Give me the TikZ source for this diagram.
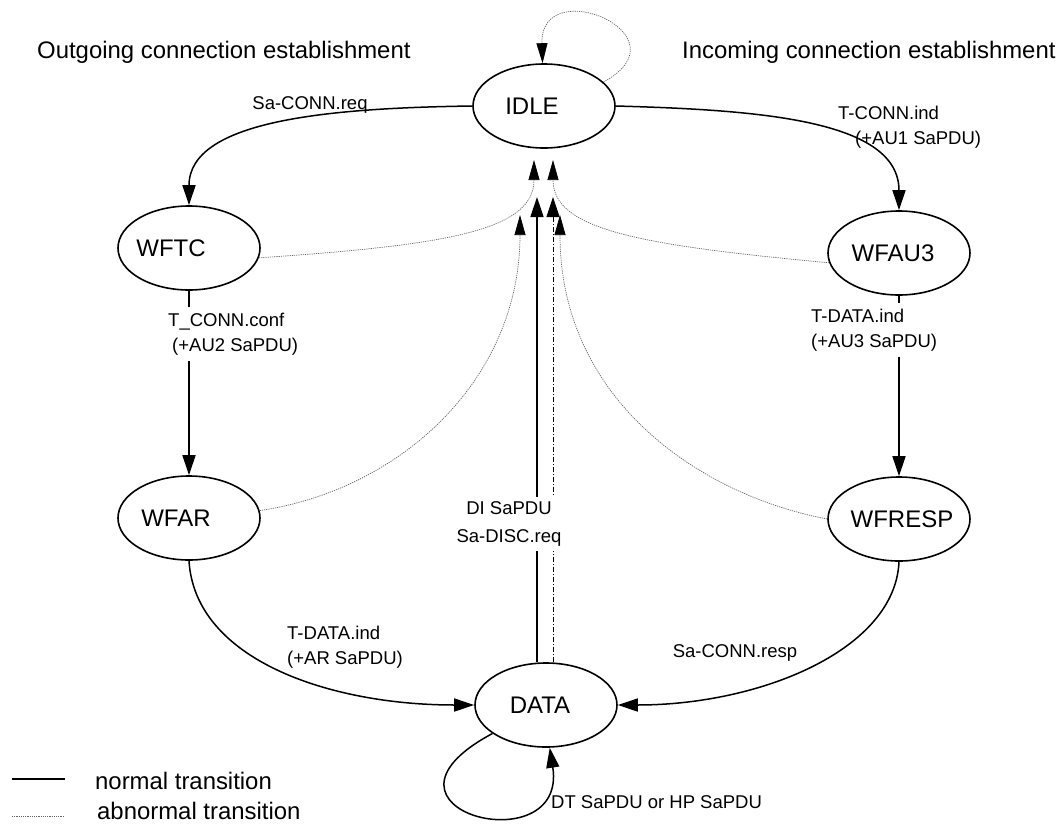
\documentclass[tikz,border=0pt]{standalone}
\usepackage{fontspec}
\setmainfont{Liberation Sans}
\usetikzlibrary{arrows.meta}
\usetikzlibrary{shapes.geometric}

\begin{document}
\begin{tikzpicture}[x=1pt,y=-1pt,
    state/.style={draw,ellipse,line width=1.6pt,minimum width=142pt,minimum height=84pt,inner sep=0pt},
    trans/.style={line width=1.5pt,-{Triangle[length=20pt,width=13pt]}},
    dots/.style={line width=0.7pt,black!60,dash pattern=on 1.2pt off 1pt},
    abtrans/.style={dots,-{Triangle[length=20pt,width=11pt,black]}},
    disc/.style={line width=0.8pt,dash pattern=on 5pt off 2pt on 1pt off 2pt,-{Triangle[length=20pt,width=13pt]}},
    lab/.style={font=\fontsize{18.5}{25}\selectfont,inner sep=0pt},
    head/.style={font=\fontsize{23.9}{28}\selectfont,inner sep=0pt},
    every label/.style={font=\fontsize{24}{28}\selectfont,inner sep=0pt}]
                \useasboundingbox (0,0) rectangle (1058,825);
                %headings
                \node[head,anchor=west] (hout) at (37,52) {Outgoing connection establishment};
                \node[head,anchor=west] (hin) at (682,52) {Incoming connection establishment};
                %states
                \node[state,label={[anchor=center,xshift=-12pt]center:IDLE}] (idle) at (544,106) {};
                \node[state,label={[anchor=center,xshift=-18pt]center:WFTC}] (wftc) at (189,248) {};
                \node[state,label={[anchor=center,xshift=-6pt]center:WFAU3}] (wfau3) at (899,253) {};
                \node[state,label={[anchor=center,xshift=-13pt]center:WFAR}] (wfar) at (189,518) {};
                \node[state,label={[anchor=center,xshift=3pt]center:WFRESP}] (wfresp) at (899,519) {};
                \node[state,label={[anchor=center,xshift=-6pt]center:DATA}] (data) at (546,705) {};
                %arrow ends under IDLE
                \coordinate (ta) at (534,160);
                \coordinate (tb) at (553,160);
                \coordinate (tc) at (520,215);
                \coordinate (td) at (560,215);
                \coordinate (tn) at (537,197);
                \coordinate (tr) at (553,197);
                %normal transitions
                \draw[trans] (idle.west) .. controls (330,108) and (189,120) .. (wftc.north);
                \draw[trans] (idle.east) .. controls (760,110) and (899,120) .. (wfau3.north);
                \draw[trans] (wftc.south) -- (wfar.north);
                \draw[trans] (wfau3.south) -- (wfresp.north);
                \draw[trans] (wfar.south) .. controls (195,660) and (330,705) .. (data.west);
                \draw[trans] (wfresp.south) .. controls (895,650) and (760,705) .. (data.east);
                \draw[trans] (data.208) .. controls (350,810) and (568,865) .. (data.275);
                \draw[trans] (tn |- data.north) -- (tn);
                \draw[disc] (tr |- data.north) -- (tr);
                %abnormal transitions
                \draw[abtrans] (idle.22) .. controls (690,35) and (540,-28) .. (idle.92);
                \draw[abtrans] (wftc.-8) .. controls (450,245) and (534,230) .. (ta);
                \draw[abtrans] (wfau3.188) .. controls (640,245) and (553,230) .. (tb);
                \draw[abtrans] (wfar.6) .. controls (400,490) and (520,380) .. (tc);
                \draw[abtrans] (wfresp.west) .. controls (700,495) and (560,400) .. (td);
                %labels
                \node[lab] (lreq) at (310,105) {Sa-CONN.req};
                \node[lab,anchor=west,align=left] (lind) at (838,127) {T-CONN.ind\\\hspace*{17pt}(+AU1 SaPDU)};
                \node[lab,anchor=west,align=left,fill=white,inner xsep=2pt,inner ysep=6pt] (lconf) at (166,334) {T\_CONN.conf\\\hspace*{4pt}(+AU2 SaPDU)};
                \node[lab,anchor=west,align=left,fill=white,inner xsep=2pt,inner ysep=6pt] (lau3) at (809,330) {T-DATA.ind\\(+AU3 SaPDU)};
                \node[lab,anchor=west,align=left] (lar) at (287,647) {T-DATA.ind\\(+AR SaPDU)};
                \node[lab] (lresp) at (735,653) {Sa-CONN.resp};
                \node[lab,align=center,fill=white,inner xsep=2pt,inner ysep=5pt] (ldisc) at (509,524) {DI SaPDU\\[3pt]Sa-DISC.req};
                \node[lab,anchor=west] (ldt) at (551,802) {DT SaPDU or HP SaPDU};
                %legend
                \coordinate (n1) at (12,779);
                \coordinate (n2) at (65,779);
                \coordinate (a1) at (12,816);
                \coordinate (a2) at (63,816);
                \draw[line width=1.5pt] (n1) -- (n2);
                \draw[dots] (a1) -- (a2);
                \node[head,anchor=west] (lnorm) at (95,781) {normal transition};
                \node[head,anchor=west] (labn) at (97,811) {abnormal transition};
            \end{tikzpicture}
\end{document}
